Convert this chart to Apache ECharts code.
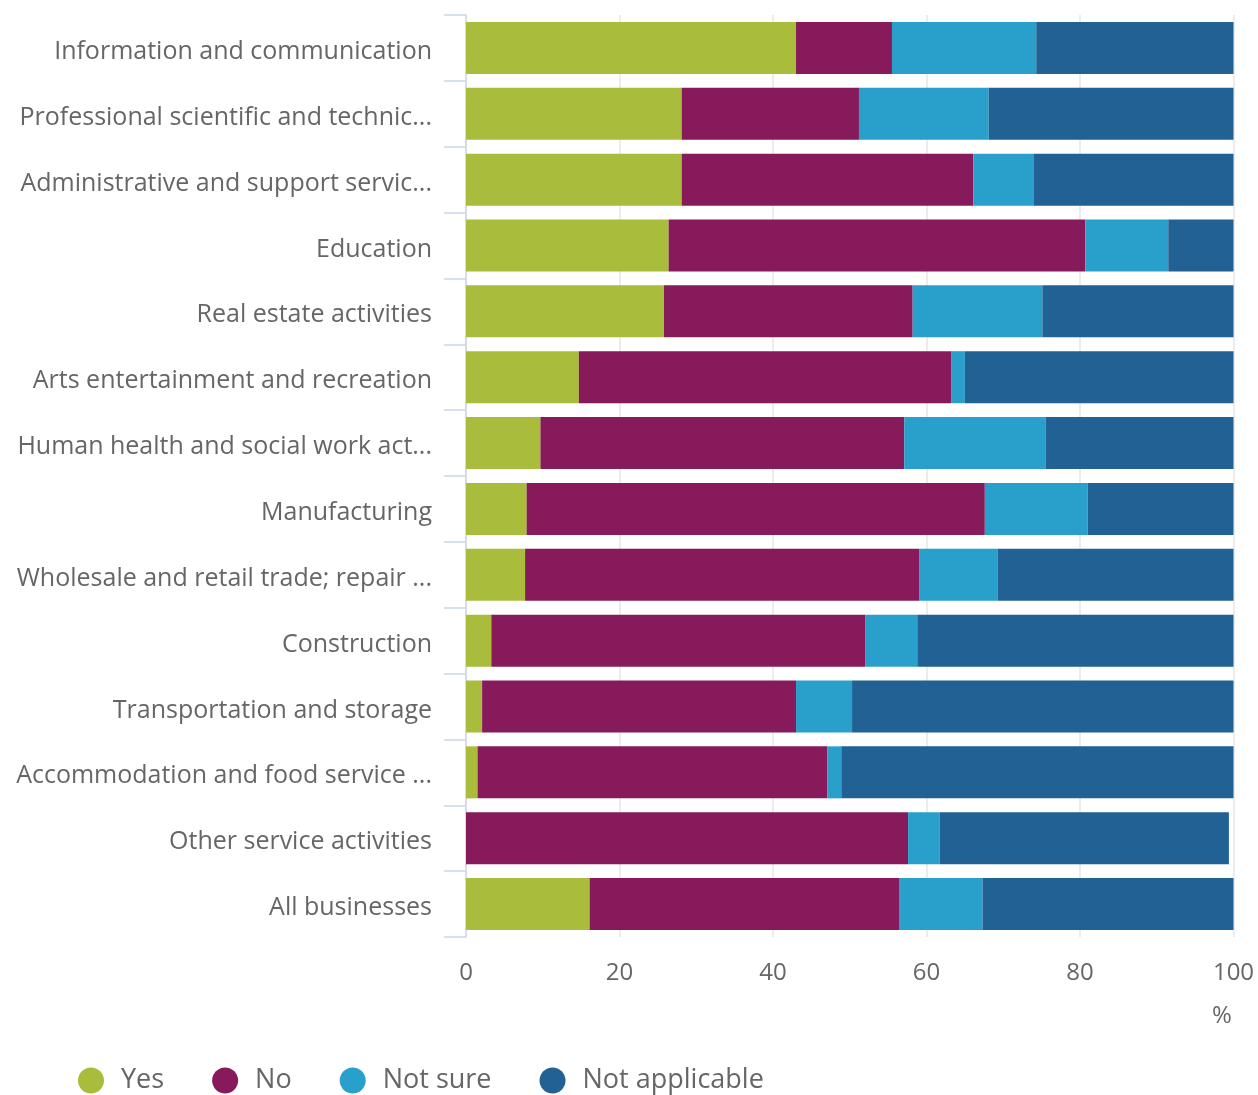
<!DOCTYPE html>
<html>
<head>
<meta charset="utf-8">
<script src="https://cdn.jsdelivr.net/npm/echarts@6/dist/echarts.min.js"></script>
<style>
  html, body { margin: 0; padding: 0; background: #ffffff; }
  #chart { width: 1258px; height: 1095px; }
</style>
</head>
<body>
<div id="chart"></div>
<script>
// Industry sections (labels as shown on the axis)
const categories = [
  'Information and communication',
  'Professional scientific and technic...',
  'Administrative and support servic...',
  'Education',
  'Real estate activities',
  'Arts entertainment and recreation',
  'Human health and social work act...',
  'Manufacturing',
  'Wholesale and retail trade; repair ...',
  'Construction',
  'Transportation and storage',
  'Accommodation and food service ...',
  'Other service activities',
  'All businesses'
];

// Share of businesses (%) giving each answer
const yesValues           = [43.0, 28.1, 28.1, 26.4, 25.8, 14.7,  9.7,  7.9,  7.7,  3.3,  2.1,  1.5,  0.0, 16.1];
const noValues            = [12.5, 23.1, 38.0, 54.3, 32.4, 48.5, 47.4, 59.7, 51.4, 48.7, 40.9, 45.6, 57.6, 40.4];
const notSureValues       = [18.8, 16.9,  7.9, 10.8, 16.9,  1.8, 18.4, 13.4, 10.2,  6.8,  7.3,  1.8,  4.1, 10.8];
const notApplicableValues = [25.7, 31.9, 26.0,  8.5, 24.9, 35.0, 24.5, 19.0, 30.7, 41.2, 49.7, 51.1, 37.7, 32.7];

const xTicks = [0, 20, 40, 60, 80, 100];

const seriesDefs = [
  { name: 'Yes',            data: yesValues,           color: '#a9bc3b' },
  { name: 'No',             data: noValues,            color: '#871a5a' },
  { name: 'Not sure',       data: notSureValues,       color: '#28a0cb' },
  { name: 'Not applicable', data: notApplicableValues, color: '#216194' }
];

const FONT = '"Open Sans", "Noto Sans", sans-serif';
const chart = echarts.init(document.getElementById('chart'), null, { renderer: 'canvas' });

chart.setOption({
  animation: false,
  textStyle: { fontFamily: FONT },
  grid: { left: 466, right: 24.5, top: 15, bottom: 158, containLabel: false },
  legend: {
    left: 78,
    top: 1067,
    padding: 0,
    icon: 'circle',
    itemWidth: 26,
    itemHeight: 26,
    itemGap: 48,
    textStyle: { fontSize: 27, color: '#666666', fontFamily: FONT, padding: [0, 0, 0, 12] },
    data: seriesDefs.map(s => s.name)
  },
  xAxis: {
    type: 'value',
    min: xTicks[0],
    max: xTicks[xTicks.length - 1],
    interval: xTicks[1] - xTicks[0],
    axisLine: { show: false },
    axisTick: { show: false },
    splitLine: { show: true, lineStyle: { color: '#e6e6e6', width: 1.5 } },
    axisLabel: { color: '#666666', fontSize: 24, margin: 24, fontFamily: FONT }
  },
  yAxis: {
    type: 'category',
    inverse: true,
    data: categories,
    axisLine: { show: true, lineStyle: { color: '#ccd6eb', width: 1.5 } },
    axisTick: { show: true, length: 22, inside: false, alignWithLabel: false, lineStyle: { color: '#ccd6eb', width: 1.5 } },
    axisLabel: {
      margin: 34,
      formatter: v => '{c|' + v + '}',
      rich: {
        c: { color: '#666666', fontSize: 25, fontFamily: FONT, padding: [8, 0, 0, 0] }
      }
    }
  },
  graphic: [{
    type: 'text',
    left: 1212,
    top: 1004,
    style: { text: '%', fill: '#666666', fontSize: 24, fontFamily: FONT }
  }],
  series: seriesDefs.map(s => ({
    name: s.name,
    type: 'bar',
    stack: 'total',
    barCategoryGap: '21%',
    data: s.data,
    itemStyle: { color: s.color },
    emphasis: { disabled: true }
  }))
});
</script>
</body>
</html>
